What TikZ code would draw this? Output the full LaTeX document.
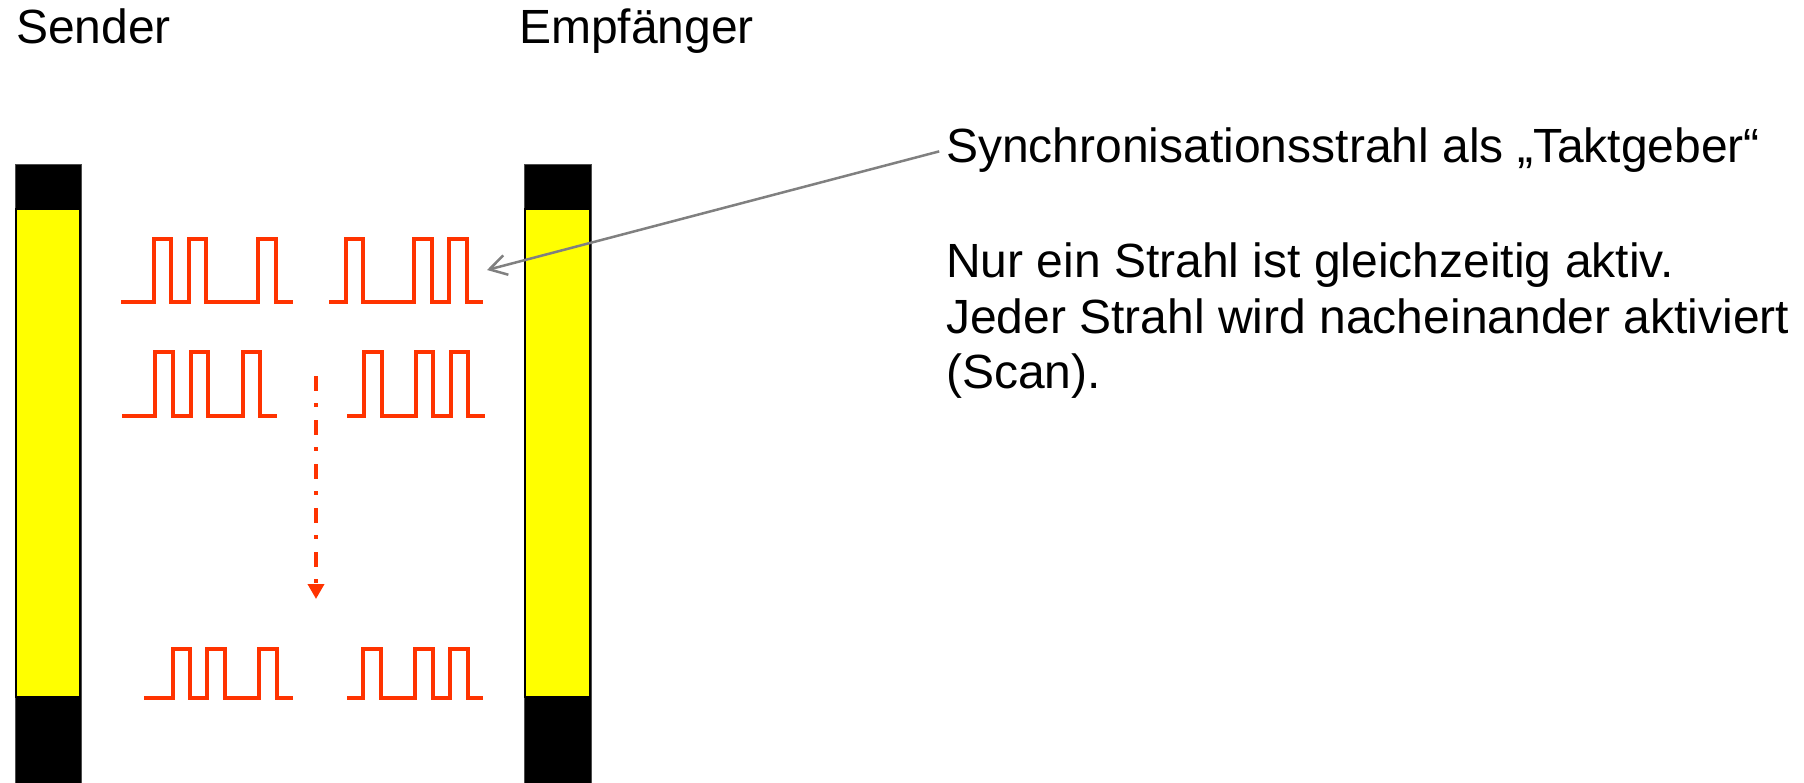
\documentclass[tikz,border=0pt]{standalone}
\usepackage{fontspec}
\setmainfont{Liberation Sans}
\usetikzlibrary{arrows.meta}
\definecolor{sig}{RGB}{255,51,0}
\definecolor{arrowgray}{RGB}{128,128,128}
\definecolor{winyellow}{RGB}{255,255,0}
\begin{document}
\begin{tikzpicture}[x=1pt,y=-1pt,
  lbl/.style={font=\fontsize{48}{55}\selectfont, inner sep=0pt, anchor=base west},
  pulse/.style={draw=sig, line width=3.6pt, line join=miter},
  barbody/.style={fill=black, draw=black!70, line width=1pt},
  barwin/.style={fill=winyellow, draw=black, line width=2pt}]
\useasboundingbox (0,0) rectangle (1804,782);
\fill[white] (0,0) rectangle (1804,782);

% light curtain bars
\draw[barbody] (15,164) rectangle (81,783);
\draw[barwin] (16,209) rectangle (80,697);
\draw[barbody] (524,164) rectangle (591,783);
\draw[barwin] (525,209) rectangle (590,697);

% texts
\node[lbl] (sender) at (16,43) {Sender};
\node[lbl] (empf) at (519,43) {Empfänger};
\node[lbl] (sync) at (946,162) {Synchronisationsstrahl als „Taktgeber“};
\node[lbl] (l1) at (946,277) {Nur ein Strahl ist gleichzeitig aktiv.};
\node[lbl] (l2) at (946,333) {Jeder Strahl wird nacheinander aktiviert};
\node[lbl] (l3) at (946,388) {(Scan).};

% pulse row 1
\draw[pulse] (121,302) -- (154,302) -- (154,239) -- (171,239) -- (171,302) -- (189,302) -- (189,239) -- (206,239) -- (206,302) -- (258,302) -- (258,239) -- (276,239) -- (276,302) -- (293,302);
\draw[pulse] (329,302) -- (346,302) -- (346,239) -- (363,239) -- (363,302) -- (414,302) -- (414,239) -- (432,239) -- (432,302) -- (449,302) -- (449,239) -- (467,239) -- (467,302) -- (483,302);

% pulse row 2
\draw[pulse] (122,416) -- (155,416) -- (155,352) -- (173,352) -- (173,416) -- (191,416) -- (191,352) -- (208,352) -- (208,416) -- (243,416) -- (243,352) -- (260,352) -- (260,416) -- (277,416);
\draw[pulse] (347,416) -- (364,416) -- (364,352) -- (382,352) -- (382,416) -- (416,416) -- (416,352) -- (433,352) -- (433,416) -- (451,416) -- (451,352) -- (468,352) -- (468,416) -- (485,416);

% pulse row 3
\draw[pulse] (144,698) -- (173,698) -- (173,649) -- (190,649) -- (190,698) -- (207,698) -- (207,649) -- (225,649) -- (225,698) -- (259,698) -- (259,649) -- (277,649) -- (277,698) -- (293,698);
\draw[pulse] (347,698) -- (363,698) -- (363,649) -- (381,649) -- (381,698) -- (415,698) -- (415,649) -- (433,649) -- (433,698) -- (450,698) -- (450,649) -- (468,649) -- (468,698) -- (483,698);

% scan arrow
\coordinate (scanA) at (316,376);
\coordinate (scanB) at (316,599);
\draw[sig, line width=3.6pt, dash pattern=on 15pt off 12pt on 4pt off 13pt,
  -{Triangle[length=15pt,width=16pt]}] (scanA) -- (scanB);

% pointer to synchronisation beam
\coordinate (synctip) at (487,270);
\draw[arrowgray, line width=2.5pt, shorten <=7pt,
  -{Straight Barb[length=17pt,width=20pt]}] (sync.west) -- (synctip);
\end{tikzpicture}
\end{document}
